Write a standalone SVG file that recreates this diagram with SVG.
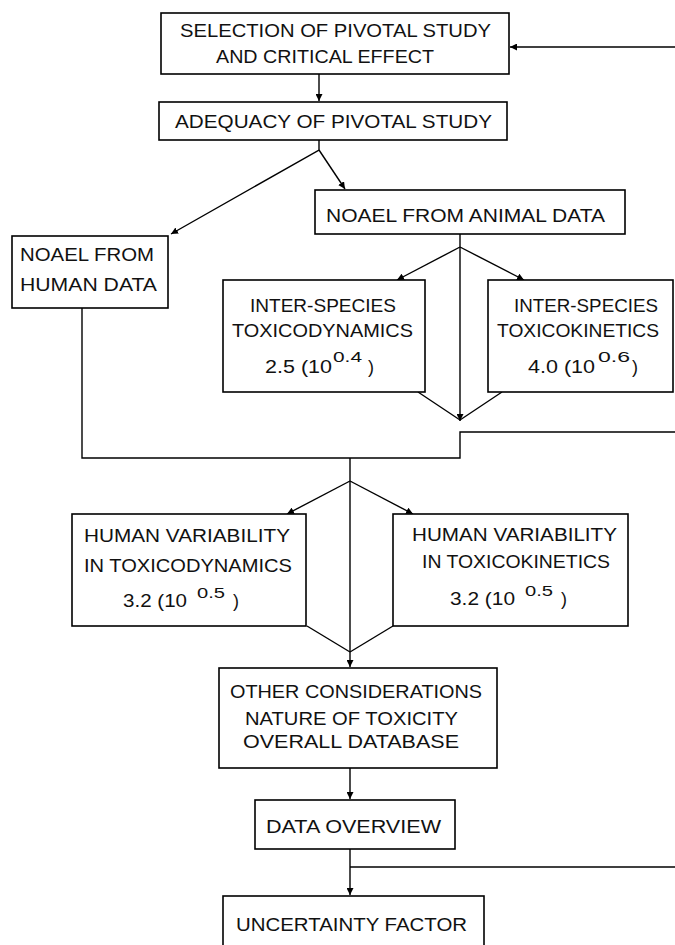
<svg xmlns="http://www.w3.org/2000/svg" width="675" height="945" viewBox="0 0 675 945">
<style>
.box{fill:#fff;stroke:#000;stroke-width:1.6}
.ln{fill:none;stroke:#000;stroke-width:1.4}
text{font-family:"Liberation Sans",Arial,sans-serif;font-size:19px;fill:#111}
.sm{font-size:18px}
.sup{font-size:15px}
</style>
<defs>
<marker id="ah" markerUnits="userSpaceOnUse" markerWidth="8" markerHeight="7" refX="7" refY="3.5" orient="auto">
<path d="M0,0 L7,3.5 L0,7 z" fill="#000"/>
</marker>
</defs>
<rect width="675" height="945" fill="#fff"/>
<g id="connectors">
<line class="ln" x1="675" y1="47" x2="510" y2="47" marker-end="url(#ah)"/>
<line class="ln" x1="319" y1="74" x2="319" y2="101" marker-end="url(#ah)"/>
<polyline class="ln" points="319,140 319,150 171,234" marker-end="url(#ah)"/>
<line class="ln" x1="319" y1="150" x2="345" y2="189" marker-end="url(#ah)"/>
<line class="ln" x1="460" y1="234" x2="460" y2="421" marker-end="url(#ah)"/>
<line class="ln" x1="460" y1="247" x2="397" y2="280" marker-end="url(#ah)"/>
<line class="ln" x1="460" y1="247" x2="524" y2="280" marker-end="url(#ah)"/>
<line class="ln" x1="418" y1="392" x2="460" y2="420"/>
<line class="ln" x1="502" y1="392" x2="460" y2="420"/>
<polyline class="ln" points="675,432 460,432 460,458 82,458 82,308"/>
<line class="ln" x1="350" y1="458" x2="350" y2="667" marker-end="url(#ah)"/>
<line class="ln" x1="350" y1="481" x2="287" y2="514" marker-end="url(#ah)"/>
<line class="ln" x1="350" y1="481" x2="413" y2="514" marker-end="url(#ah)"/>
<line class="ln" x1="307" y1="626" x2="350" y2="652"/>
<line class="ln" x1="393" y1="626" x2="350" y2="652"/>
<line class="ln" x1="350" y1="768" x2="350" y2="799" marker-end="url(#ah)"/>
<line class="ln" x1="350" y1="849" x2="350" y2="895" marker-end="url(#ah)"/>
<line class="ln" x1="350" y1="867" x2="675" y2="867"/>
</g>
<g id="selection">
<rect class="box" x="161" y="13" width="348" height="61"/>
<text x="180" y="37" textLength="311" lengthAdjust="spacingAndGlyphs">SELECTION OF PIVOTAL STUDY</text>
<text x="216" y="63" textLength="218" lengthAdjust="spacingAndGlyphs">AND CRITICAL EFFECT</text>
</g>
<g id="adequacy">
<rect class="box" x="159" y="102" width="348" height="38"/>
<text x="175" y="128" textLength="317" lengthAdjust="spacingAndGlyphs">ADEQUACY OF PIVOTAL STUDY</text>
</g>
<g id="noael-human">
<rect class="box" x="12" y="236" width="156" height="72"/>
<text x="20" y="261" textLength="134" lengthAdjust="spacingAndGlyphs">NOAEL FROM</text>
<text x="20" y="291" textLength="137" lengthAdjust="spacingAndGlyphs">HUMAN DATA</text>
</g>
<g id="noael-animal">
<rect class="box" x="315" y="190" width="310" height="44"/>
<text x="326" y="222" textLength="279" lengthAdjust="spacingAndGlyphs">NOAEL FROM ANIMAL DATA</text>
</g>
<g id="inter-td">
<rect class="box" x="223" y="280" width="202" height="112"/>
<text class="sm" x="250" y="312" textLength="146" lengthAdjust="spacingAndGlyphs">INTER-SPECIES</text>
<text class="sm" x="232" y="337" textLength="181" lengthAdjust="spacingAndGlyphs">TOXICODYNAMICS</text>
<text class="sm" x="265" y="373" textLength="67" lengthAdjust="spacingAndGlyphs">2.5 (10</text>
<text class="sup" x="333" y="362" textLength="29" lengthAdjust="spacingAndGlyphs">0.4</text>
<text class="sm" x="368" y="373">)</text>
</g>
<g id="inter-tk">
<rect class="box" x="488" y="280" width="185" height="112"/>
<text class="sm" x="514" y="312" textLength="144" lengthAdjust="spacingAndGlyphs">INTER-SPECIES</text>
<text class="sm" x="497" y="337" textLength="162" lengthAdjust="spacingAndGlyphs">TOXICOKINETICS</text>
<text class="sm" x="528" y="373" textLength="67" lengthAdjust="spacingAndGlyphs">4.0 (10</text>
<text class="sup" x="598" y="362" textLength="32" lengthAdjust="spacingAndGlyphs">0.6</text>
<text class="sm" x="632" y="373">)</text>
</g>
<g id="human-td">
<rect class="box" x="72" y="514" width="234" height="112"/>
<text class="sm" x="84" y="542" textLength="206" lengthAdjust="spacingAndGlyphs">HUMAN VARIABILITY</text>
<text class="sm" x="84" y="572" textLength="208" lengthAdjust="spacingAndGlyphs">IN TOXICODYNAMICS</text>
<text class="sm" x="123" y="607" textLength="64" lengthAdjust="spacingAndGlyphs">3.2 (10</text>
<text class="sup" x="197" y="598" textLength="28" lengthAdjust="spacingAndGlyphs">0.5</text>
<text class="sm" x="233" y="607">)</text>
</g>
<g id="human-tk">
<rect class="box" x="393" y="514" width="235" height="112"/>
<text class="sm" x="412" y="541" textLength="205" lengthAdjust="spacingAndGlyphs">HUMAN VARIABILITY</text>
<text class="sm" x="422" y="568" textLength="188" lengthAdjust="spacingAndGlyphs">IN TOXICOKINETICS</text>
<text class="sm" x="450" y="605" textLength="65" lengthAdjust="spacingAndGlyphs">3.2 (10</text>
<text class="sup" x="525" y="596" textLength="28" lengthAdjust="spacingAndGlyphs">0.5</text>
<text class="sm" x="561" y="605">)</text>
</g>
<g id="other">
<rect class="box" x="219" y="668" width="278" height="100"/>
<text x="230" y="698" textLength="252" lengthAdjust="spacingAndGlyphs">OTHER CONSIDERATIONS</text>
<text x="245" y="725" textLength="213" lengthAdjust="spacingAndGlyphs">NATURE OF TOXICITY</text>
<text x="243" y="748" textLength="216" lengthAdjust="spacingAndGlyphs">OVERALL DATABASE</text>
</g>
<g id="data-overview">
<rect class="box" x="255" y="800" width="200" height="49"/>
<text x="266" y="833" textLength="175" lengthAdjust="spacingAndGlyphs">DATA OVERVIEW</text>
</g>
<g id="uncertainty">
<rect class="box" x="223" y="896" width="261" height="60"/>
<text x="236" y="931" textLength="231" lengthAdjust="spacingAndGlyphs">UNCERTAINTY FACTOR</text>
</g>
</svg>
